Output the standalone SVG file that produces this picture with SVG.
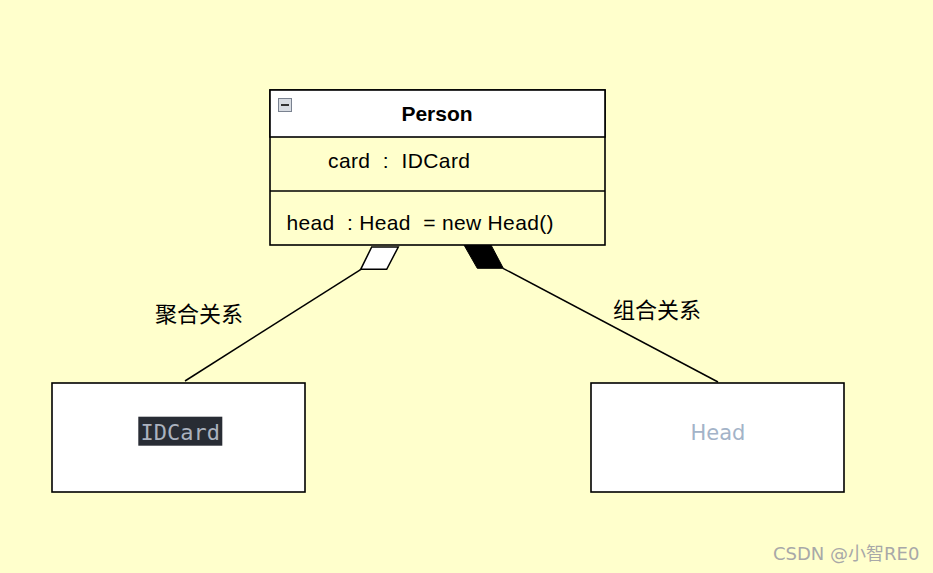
<svg xmlns="http://www.w3.org/2000/svg" width="933" height="573" viewBox="0 0 933 573">
<style>
.box{fill:#ffffff;stroke:#000;stroke-width:1.6}
.line{stroke:#000;stroke-width:1.5;fill:none}
.t{font-family:"Liberation Sans",Arial,sans-serif;font-size:21px;fill:#000;white-space:pre}
.cjk{font-family:"Liberation Sans","Noto Sans CJK SC",sans-serif;font-size:22px;fill:#000}
</style>
<rect width="933" height="573" fill="#ffffcc"/>
<g id="connectors">
<line class="line" x1="361" y1="269.3" x2="185" y2="381"/>
<polygon points="371.7,247 398.3,247 386.7,269.3 360.7,269.3" fill="#ffffff" stroke="#000" stroke-width="1.5"/>
<line class="line" x1="503" y1="268.3" x2="718" y2="382"/>
<polygon points="464,245 491,245 503.3,268.3 477.3,268.3" fill="#000" stroke="#000" stroke-width="1"/>
<text class="cjk" x="155" y="322">聚合关系</text>
<text class="cjk" x="613" y="318">组合关系</text>
</g>
<g id="person">
<rect x="270" y="90" width="335" height="155" fill="#ffffcc" stroke="#000" stroke-width="1.6"/>
<rect x="270" y="90" width="335" height="47" fill="#ffffff" stroke="#000" stroke-width="1.6"/>
<line class="line" x1="270" y1="191" x2="605" y2="191"/>
<rect x="278.5" y="98.5" width="13" height="13" fill="#d8dce2" stroke="#7a8290" stroke-width="1"/>
<line x1="281" y1="105" x2="289" y2="105" stroke="#333" stroke-width="2"/>
<text class="t" x="437" y="121" text-anchor="middle" font-weight="bold">Person</text>
<text class="t" x="328" y="168" xml:space="preserve" textLength="142" lengthAdjust="spacing">card  :  IDCard</text>
<text class="t" x="286.5" y="230" xml:space="preserve" textLength="267" lengthAdjust="spacing">head  : Head  = new Head()</text>
</g>
<g id="idcard">
<rect class="box" x="52" y="383" width="253" height="109"/>
<rect x="138.3" y="416.7" width="84" height="29" fill="#282c34"/>
<text x="180.3" y="440" text-anchor="middle" font-family="DejaVu Sans Mono,monospace" font-size="22" fill="#abb2bf">IDCard</text>
</g>
<g id="head">
<rect class="box" x="591" y="383" width="253" height="109"/>
<text x="718" y="440" text-anchor="middle" font-family="DejaVu Sans,sans-serif" font-size="21" fill="#a3b3c8">Head</text>
</g>
<text x="773" y="560" font-family="DejaVu Sans,'Noto Sans CJK SC',sans-serif" font-size="18" fill="#a8a8a8">CSDN @小智RE0</text>
</svg>
